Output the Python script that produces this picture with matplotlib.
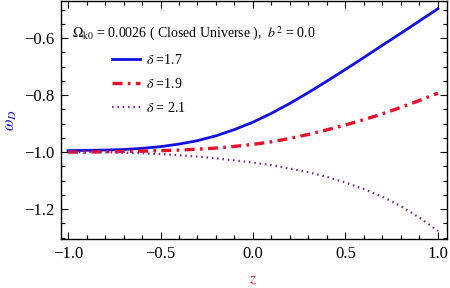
import matplotlib
matplotlib.use("Agg")
import matplotlib.pyplot as plt
from matplotlib.ticker import MultipleLocator, FuncFormatter

z = [-1.0, -0.9, -0.8, -0.7, -0.6, -0.5, -0.4, -0.3, -0.2, -0.1, 0.0,
     0.1, 0.2, 0.3, 0.4, 0.5, 0.6, 0.7, 0.8, 0.9, 1.0]
w_d17 = [-0.995, -0.994, -0.993, -0.991, -0.987, -0.981, -0.972, -0.960, -0.943, -0.921, -0.895,
         -0.864, -0.829, -0.791, -0.751, -0.710, -0.668, -0.625, -0.583, -0.540, -0.497]
w_d19 = [-1.000, -1.000, -0.999, -0.998, -0.997, -0.995, -0.993, -0.990, -0.986, -0.980, -0.973,
         -0.964, -0.952, -0.938, -0.922, -0.905, -0.886, -0.866, -0.843, -0.819, -0.793]
w_d21 = [-1.000, -1.000, -1.001, -1.002, -1.004, -1.007, -1.011, -1.016, -1.022, -1.029, -1.037,
         -1.046, -1.058, -1.071, -1.087, -1.107, -1.130, -1.157, -1.190, -1.230, -1.277]
labels = [r"$\delta$ =1.7", r"$\delta$ =1.9", r"$\delta$ = 2.1"]
xticks = [-1.0, -0.5, 0.0, 0.5, 1.0]
yticks = [-1.2, -1.0, -0.8, -0.6]

plt.rcParams['font.family'] = ['Liberation Serif', 'DejaVu Serif']
plt.rcParams['mathtext.fontset'] = 'stix'

fig = plt.figure(figsize=(4.5, 2.88), dpi=100)
ax = fig.add_axes([61/450, 1 - 239/288, (447 - 61)/450, (239 - 1)/288])

l1, = ax.plot(z, w_d17, color='#1010e0', lw=2.0, solid_joinstyle='round')
l2, = ax.plot(z, w_d19, color='#e8102a', lw=2.4, dashes=(3.0, 1.6, 0.8, 1.6))
l3, = ax.plot(z, w_d21, color='#7a2a90', lw=1.6, dashes=(0.7, 1.7))

ax.set_xlim(-1.038, 1.049)
ax.set_ylim(-1.305, -0.47)
ax.set_xticks(xticks)
ax.set_yticks(yticks)
fmt = FuncFormatter(lambda v, p: ("\u2212" if v < -1e-9 else "") + f"{abs(v):.1f}")
ax.xaxis.set_major_formatter(fmt)
ax.yaxis.set_major_formatter(fmt)
ax.xaxis.set_minor_locator(MultipleLocator(0.1))
ax.yaxis.set_minor_locator(MultipleLocator(0.05))
ax.tick_params(which='both', direction='in', top=True, right=True, labelsize=12, width=0.8)
ax.tick_params(which='major', length=5, pad=5)
ax.tick_params(which='minor', length=3)
for s in ax.spines.values():
    s.set_linewidth(1.0)

ax.set_ylabel(r"$\boldsymbol{\omega_D}$", color='#1010e0', fontsize=12)
ax.yaxis.set_label_coords(-0.108, 0.5)
ax.set_xlabel(r"$z$", color='#e8102a', fontsize=11)
ax.xaxis.set_label_coords(0.497, -0.145)

ax.text(0.028, 0.845, r"$\Omega_{\rm k0}$ = 0.0026 ( Closed Universe ),  $b^2$ = 0.0",
        transform=ax.transAxes, fontsize=10, va='baseline', ha='left')

ax.legend([l1, l2, l3], labels, loc='upper left', bbox_to_anchor=(0.118, 0.805),
          frameon=False, fontsize=10, handlelength=2.0, handletextpad=0.45,
          labelspacing=0.72, borderaxespad=0)

fig.savefig("out.png", dpi=100)
